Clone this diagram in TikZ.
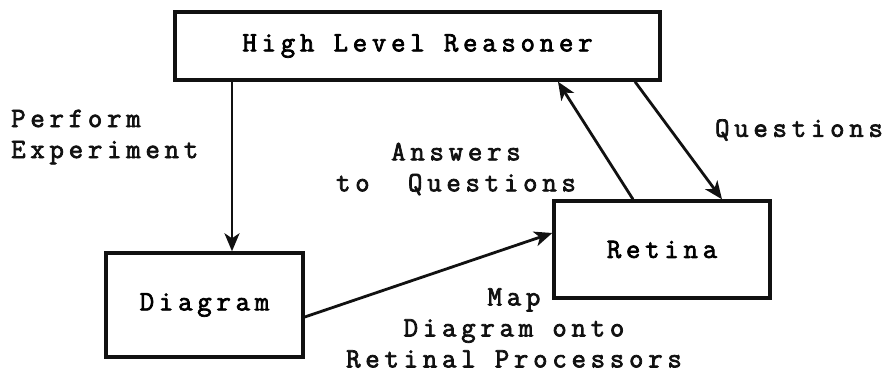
\documentclass[tikz,border=0pt]{standalone}
\usepackage{fontspec}
\usepackage{tikz}
\usetikzlibrary{arrows.meta,positioning,calc}
\newfontfamily\typewriter{Latin Modern Mono}[LetterSpace=17,FakeBold=2.6]
\definecolor{ink}{HTML}{111111}

\begin{document}
\begin{tikzpicture}[x=1pt,y=-1pt]
    \tikzset{
      block/.style={draw=ink,line width=3.4pt,inner sep=0pt,font=\typewriter\fontsize{28}{32}\selectfont},
      note/.style={inner sep=0pt,text=ink,font=\typewriter\fontsize{28}{31}\selectfont},
      arrow/.style={-{Stealth[length=18pt,width=15pt,inset=5pt]},draw=ink,line width=2.8pt}
    }
    \useasboundingbox (0,0) rectangle (886,372);
    \node[block,minimum width=485pt,minimum height=68pt] (hlr) at (417.5,46) {High Level Reasoner};
    \node[block,minimum width=197pt,minimum height=104pt] (diag) at (204.5,305) {Diagram};
    \node[block,minimum width=216pt,minimum height=97pt] (ret) at (662,249.5) {Retina};
    \node[note,align=left,anchor=west] (perf) at (11,137) {Perform\\Experiment};
    \node[note,align=center] (ans) at (456,169) {Answers\\to~~Questions};
    \node[note] (ques) at (799,130) {Questions};
    \node[note,align=center] (map) at (514,328) {Map\\Diagram onto\\Retinal Processors};
    \coordinate (drop) at ([xshift=27.5pt]diag.north);
    \draw[arrow] (drop |- hlr.south) -- (drop);
    \draw[arrow] ([xshift=-29pt]ret.north) -- ([xshift=140.5pt]hlr.south);
    \draw[arrow] ([xshift=217.5pt]hlr.south) -- ([xshift=60pt]ret.north);
    \draw[arrow] ([yshift=-12pt]diag.east) -- ([yshift=16.5pt]ret.west);
  \end{tikzpicture}
\end{document}
